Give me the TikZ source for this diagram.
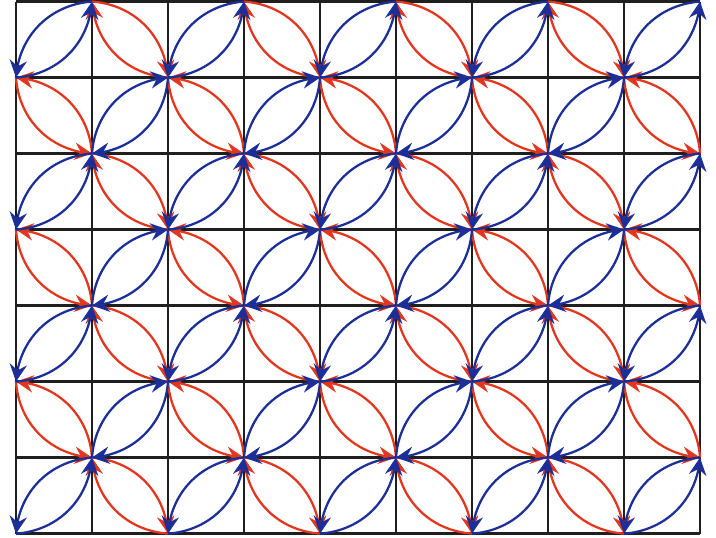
\documentclass[tikz,border=0pt]{standalone}
\usetikzlibrary{arrows.meta,bending}
\definecolor{flowblue}{RGB}{28,46,152}
\definecolor{flowred}{RGB}{226,54,30}
\begin{document}
\begin{tikzpicture}[x=2cm,y=2cm,
  gridline/.style={line width=1.7pt, draw=black!88},
  flowarc/.style={line width=1.7pt, -{Stealth[length=13pt,width=13pt,inset=4.5pt,flex]}},
  bluearc/.style={flowarc, draw=flowblue},
  redarc/.style={flowarc, draw=flowred}]
\useasboundingbox (-0.2105,-0.045) rectangle (9.2105,7.021);
\foreach \i in {0,...,9}{\foreach \j in {0,...,7}{\coordinate (v-\i-\j) at (\i,\j);}}
\draw[gridline, step=2cm] (v-0-0) grid (v-9-7);
% red lenses (TL--BR diagonal)
\foreach \i in {0,...,8}{\foreach \j in {0,...,6}{
  \pgfmathtruncatemacro\pty{mod(\i+\j,2)}
  \pgfmathtruncatemacro\ip{\i+1}
  \pgfmathtruncatemacro\jp{\j+1}
  \ifodd\i \tikzset{curb/.style={bend left=41}}\else\tikzset{curb/.style={bend right=41}}\fi
  \ifnum\pty=1
    \draw[redarc] (v-\i-\jp) to[curb] (v-\ip-\j);
    \draw[redarc] (v-\ip-\j) to[curb] (v-\i-\jp);
  \fi
}}
% blue lenses (BL--TR diagonal)
\foreach \i in {0,...,8}{\foreach \j in {0,...,6}{
  \pgfmathtruncatemacro\pty{mod(\i+\j,2)}
  \pgfmathtruncatemacro\ip{\i+1}
  \pgfmathtruncatemacro\jp{\j+1}
  \ifodd\i \tikzset{curb/.style={bend left=41}}\else\tikzset{curb/.style={bend right=41}}\fi
  \ifnum\pty=0
    \draw[bluearc] (v-\i-\j) to[curb] (v-\ip-\jp);
    \draw[bluearc] (v-\ip-\jp) to[curb] (v-\i-\j);
  \fi
}}
\end{tikzpicture}
\end{document}
